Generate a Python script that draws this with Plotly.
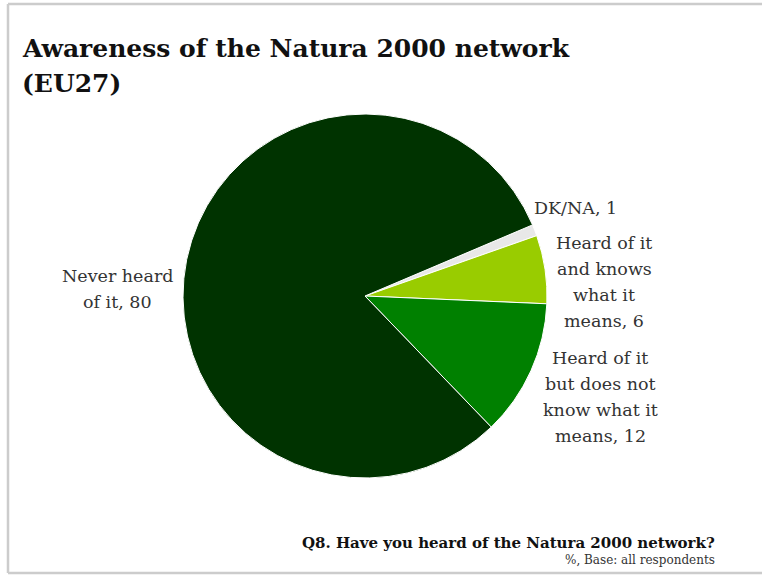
import plotly.graph_objects as go

labels = ["DK/NA", "Heard of it and knows what it means", "Heard of it but does not know what it means", "Never heard of it"]
label_lines = [["DK/NA, 1"], ["Heard of it", "and knows", "what it", "means, 6"],
               ["Heard of it", "but does not", "know what it", "means, 12"], ["Never heard", "of it, 80"]]
values = [1, 6, 12, 80]
colors = ["#E8E8E8", "#99CC00", "#008000", "#003300"]

W, H = 762, 576
cx, cy, r = 365, 296, 182

fig = go.Figure(go.Pie(
    labels=labels, values=values, sort=False, direction="clockwise", rotation=67,
    marker=dict(colors=colors, line=dict(color="white", width=1)),
    textinfo="none", hoverinfo="label+value", showlegend=False,
    domain=dict(x=[(cx - r) / W, (cx + r) / W], y=[1 - (cy + r) / H, 1 - (cy - r) / H]),
))

font = "DejaVu Serif, Liberation Serif, serif"
label_pos = [(532, 208, "left"), (604, 243, "center"), (600, 358, "center"), (117, 276, "center")]
for lines, (x, y, al) in zip(label_lines, label_pos):
    for i, line in enumerate(lines):
        fig.add_annotation(x=x / W, y=1 - (y + 26 * i) / H, xref="paper", yref="paper", text=line,
                           showarrow=False, xanchor=al, yanchor="middle",
                           font=dict(family=font, size=17.5, color="#333333"))

fig.add_annotation(x=20 / W, y=1 - 48 / H, xref="paper", yref="paper",
                   text="<b>Awareness of the Natura 2000 network</b>", showarrow=False,
                   xanchor="left", yanchor="middle", font=dict(family=font, size=25, color="#111111"))
fig.add_annotation(x=20 / W, y=1 - 83 / H, xref="paper", yref="paper",
                   text="<b>(EU27)</b>", showarrow=False,
                   xanchor="left", yanchor="middle", font=dict(family=font, size=25, color="#111111"))
fig.add_annotation(x=717 / W, y=1 - 543 / H, xref="paper", yref="paper",
                   text="<b>Q8. Have you heard of the Natura 2000 network?</b>", showarrow=False,
                   xanchor="right", yanchor="middle", font=dict(family=font, size=15, color="#111111"))
fig.add_annotation(x=717 / W, y=1 - 560 / H, xref="paper", yref="paper",
                   text="%, Base: all respondents", showarrow=False,
                   xanchor="right", yanchor="middle", font=dict(family=font, size=12, color="#333333"))

frame = dict(type="line", xref="paper", yref="paper", line=dict(color="#CCCCCC", width=2.5))
fig.add_shape(**frame, x0=8 / W, x1=1, y0=1 - 4 / H, y1=1 - 4 / H)
fig.add_shape(**frame, x0=8 / W, x1=8 / W, y0=1 - 4 / H, y1=1 - 573 / H)
fig.add_shape(**frame, x0=8 / W, x1=1, y0=1 - 573 / H, y1=1 - 573 / H)

fig.update_layout(width=W, height=H, margin=dict(l=0, r=0, t=0, b=0),
                  paper_bgcolor="white", plot_bgcolor="white")
fig.write_html("out.html", config={"displayModeBar": False},
               post_script="document.body.style.margin='0px';document.body.style.padding='0px';")
